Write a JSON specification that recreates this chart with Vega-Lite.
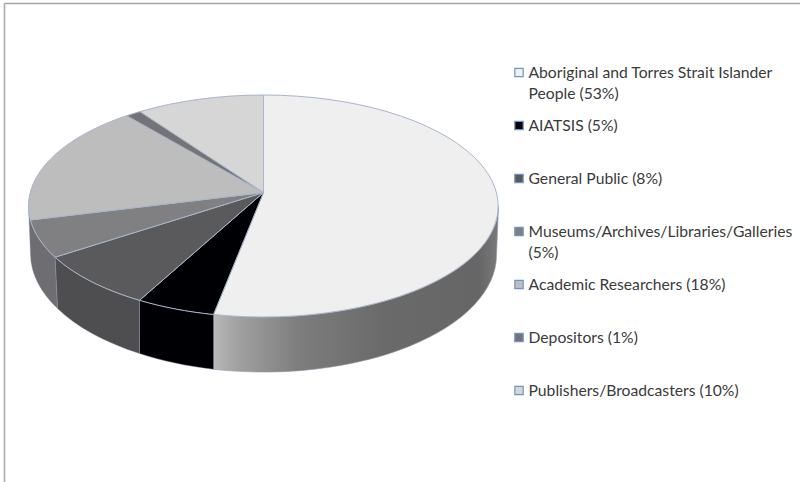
{
"$schema":"https://vega.github.io/schema/vega-lite/v6.json",
"width":800,"height":482,"padding":0,"autosize":"none","background":"#ffffff",
"config":{"view":{"stroke":null}},
"datasets":{"shares":[
{"slice":"Aboriginal and Torres Strait Islander People","share":53,"label":"Aboriginal and Torres Strait Islander\nPeople (53%)"},
{"slice":"AIATSIS","share":5,"label":"AIATSIS (5%)"},
{"slice":"General Public","share":8,"label":"General Public (8%)"},
{"slice":"Museums/Archives/Libraries/Galleries","share":5,"label":"Museums/Archives/Libraries/Galleries\n(5%)"},
{"slice":"Academic Researchers","share":18,"label":"Academic Researchers (18%)"},
{"slice":"Depositors","share":1,"label":"Depositors (1%)"},
{"slice":"Publishers/Broadcasters","share":10,"label":"Publishers/Broadcasters (10%)"}
]},
"data":{"name":"shares"},
"resolve":{"scale":{"y":"independent"}},
"layer":[
{"layer":[
{"data":{"values":[{"edge":"left"}]},"mark":{"type":"rule","stroke":"#a6a6a6","strokeWidth":1.5},
 "encoding":{"x":{"datum":4.5,"type":"quantitative","scale":{"domain":[0,800],"range":[0,800],"nice":false},"axis":null},
 "y":{"datum":3.5,"type":"quantitative","scale":{"domain":[0,482],"range":[0,482],"nice":false},"axis":null},"y2":{"datum":482}}},
{"data":{"values":[{"edge":"top"}]},"mark":{"type":"rule","stroke":"#a6a6a6","strokeWidth":1.5},
 "encoding":{"x":{"datum":4.5,"type":"quantitative"},"x2":{"datum":800},"y":{"datum":3.5,"type":"quantitative"}}},
{"transform":[{"filter":"datum.slice === 'Aboriginal and Torres Strait Islander People'"}],
 "mark":{"type":"point","filled":true,"opacity":1,"size":4,"shape":"M235,13.5 A235,111 0 0 1 -50,122 L-50,176.8 A233,117 0 0 0 233,62.5 Z",
 "fill":{"gradient":"linear","x1":0,"y1":0,"x2":1,"y2":0,"stops":[{"offset":0,"color":"#b9b9b9"},{"offset":0.08,"color":"#a2a2a2"},{"offset":0.3,"color":"#7d7d7d"},{"offset":0.6,"color":"#6a6a6a"},{"offset":0.93,"color":"#666666"},{"offset":1,"color":"#7a7a7a"}]},
 "stroke":"#8c97ab","strokeWidth":0.6},
 "encoding":{"x":{"datum":263.5,"type":"quantitative"},"y":{"datum":192.5,"type":"quantitative"}}},
{"transform":[{"filter":"datum.slice === 'AIATSIS'"}],
 "mark":{"type":"point","filled":true,"opacity":1,"size":4,"shape":"M-50,122 A235,111 0 0 1 -124,107.8 L-124,161 A233,117 0 0 0 -50,176.8 Z","fill":"#000004","stroke":"#8c97ab","strokeWidth":0.4},
 "encoding":{"x":{"datum":263.5,"type":"quantitative"},"y":{"datum":192.5,"type":"quantitative"}}},
{"transform":[{"filter":"datum.slice === 'General Public'"}],
 "mark":{"type":"point","filled":true,"opacity":1,"size":4,"shape":"M-124,107.8 A235,111 0 0 1 -208.5,64.7 L-206,116 A233,117 0 0 0 -124,161 Z","fill":"#4e4e50","stroke":"#8c97ab","strokeWidth":0.4},
 "encoding":{"x":{"datum":263.5,"type":"quantitative"},"y":{"datum":192.5,"type":"quantitative"}}},
{"transform":[{"filter":"datum.slice === 'Museums/Archives/Libraries/Galleries'"}],
 "mark":{"type":"point","filled":true,"opacity":1,"size":4,"shape":"M-208.5,64.7 A235,111 0 0 1 -235,13.5 L-233,62.5 A233,117 0 0 0 -206,116 Z","fill":"#6e6e72","stroke":"#8c97ab","strokeWidth":0.4},
 "encoding":{"x":{"datum":263.5,"type":"quantitative"},"y":{"datum":192.5,"type":"quantitative"}}},
{"mark":{"type":"point","filled":true,"opacity":1,"size":4,"stroke":"#a9b5cb","strokeWidth":1},
 "encoding":{"x":{"datum":263.5,"type":"quantitative"},"y":{"datum":192.5,"type":"quantitative"},
 "shape":{"field":"slice","type":"nominal","legend":null,"sort":null,"scale":{"domain":["Aboriginal and Torres Strait Islander People","AIATSIS","General Public","Museums/Archives/Libraries/Galleries","Academic Researchers","Depositors","Publishers/Broadcasters"],"range":[
 "M0,0 L0,-97.5 A235,111 0 1 1 -50,122 Z",
 "M0,0 L-50,122 A235,111 0 0 1 -124,107.8 Z",
 "M0,0 L-124,107.8 A235,111 0 0 1 -208.5,64.7 Z",
 "M0,0 L-208.5,64.7 A235,111 0 0 1 -233.1,27.5 Z",
 "M0,0 L-233.1,27.5 A235,111 0 0 1 -136.8,-76.8 Z",
 "M0,0 L-136.8,-76.8 A235,111 0 0 1 -123.5,-80.9 Z",
 "M0,0 L-123.5,-80.9 A235,111 0 0 1 0,-97.5 Z"]}},
 "fill":{"field":"slice","type":"nominal","legend":null,"sort":null,"scale":{"domain":["Aboriginal and Torres Strait Islander People","AIATSIS","General Public","Museums/Archives/Libraries/Galleries","Academic Researchers","Depositors","Publishers/Broadcasters"],"range":["#efeff0","#000004","#5a5a5c","#808082","#bdbdbd","#747478","#d6d6d6"]}}}}
]},
{"layer":[
{"mark":{"type":"square","filled":true,"opacity":1,"size":70,"stroke":"#6f94c8","strokeWidth":1.2},
 "encoding":{"x":{"datum":519,"type":"quantitative"},
 "y":{"field":"slice","type":"nominal","sort":null,"axis":null,"scale":{"type":"point","range":[72.5,390.5],"padding":0}},
 "fill":{"field":"slice","type":"nominal","legend":null,"sort":null}}},
{"mark":{"type":"text","align":"left","baseline":"alphabetic","dy":5,"font":"Lato","fontSize":15.7,"lineBreak":"\n","lineHeight":21,"fill":"#3a3a3a"},
 "encoding":{"x":{"datum":528.5,"type":"quantitative"},
 "y":{"field":"slice","type":"nominal","sort":null,"axis":null},
 "text":{"field":"label","type":"nominal"}}}
]}
]}
